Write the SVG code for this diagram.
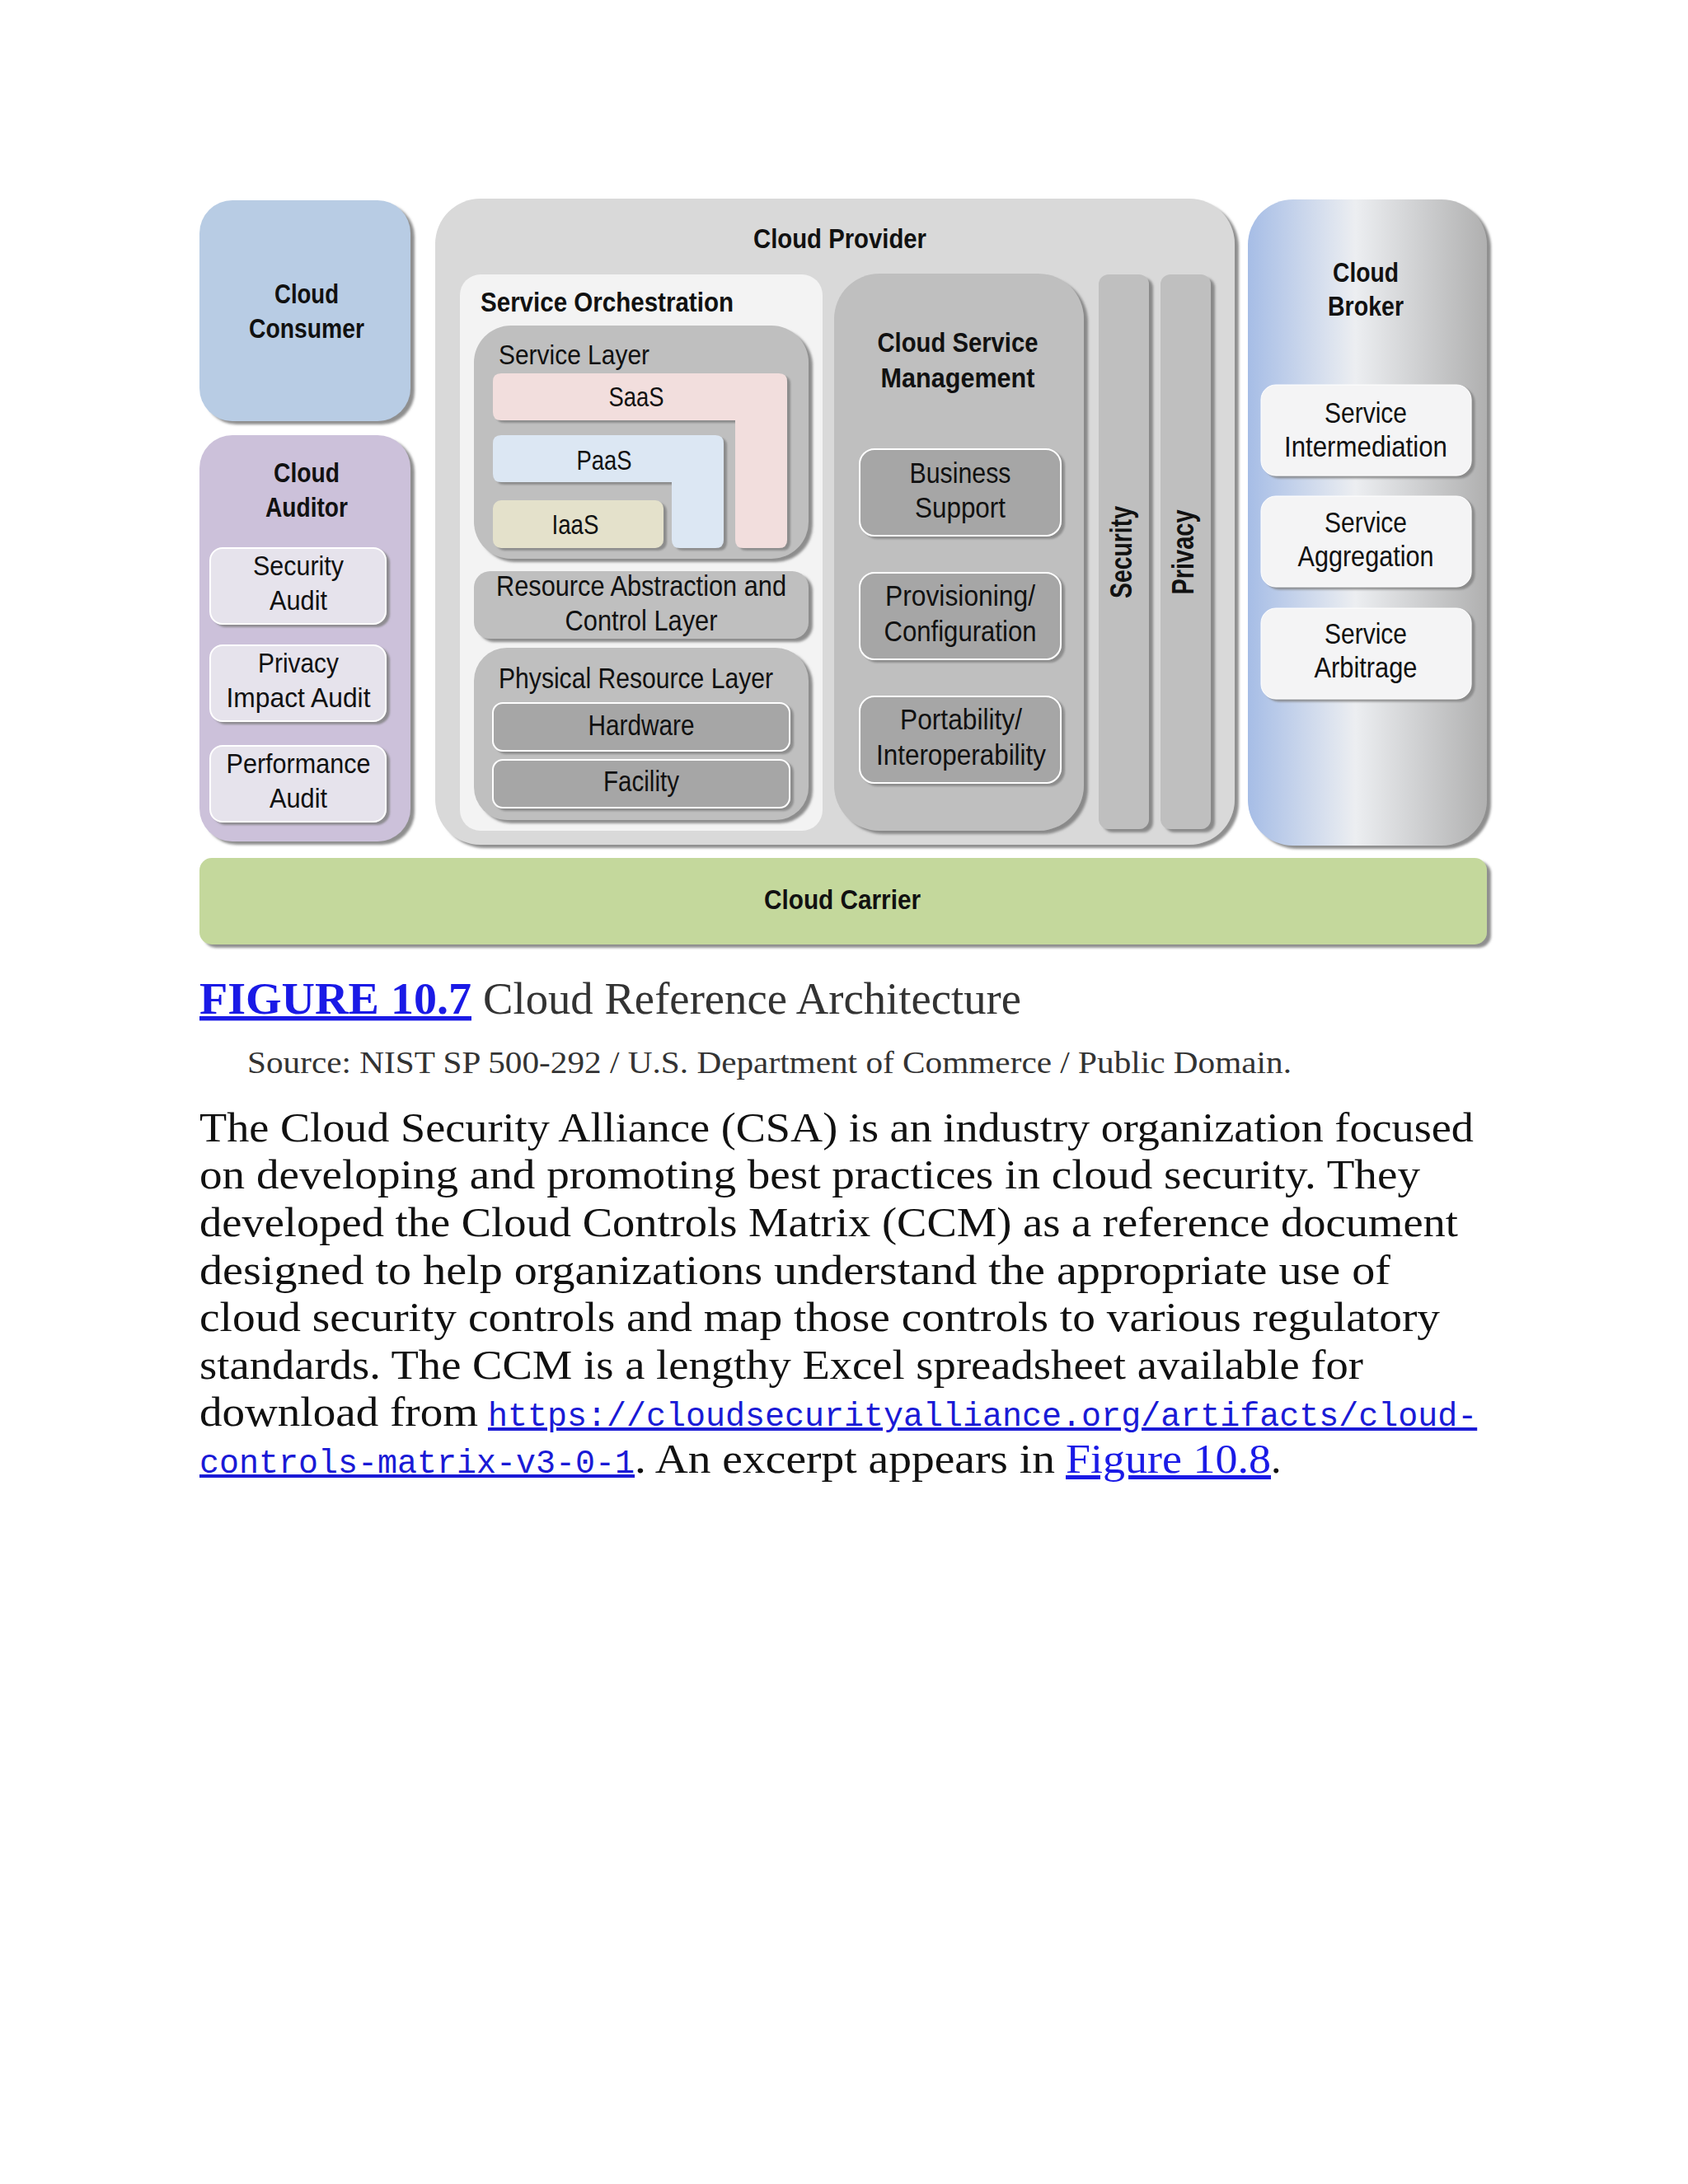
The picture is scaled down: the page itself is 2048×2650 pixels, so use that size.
<svg xmlns="http://www.w3.org/2000/svg" width="2048" height="2650" viewBox="0 0 2048 2650">
<defs>
<filter id="sh" x="-10%" y="-10%" width="130%" height="130%"><feDropShadow dx="5" dy="4" stdDeviation="1.5" flood-color="#7a7a7a" flood-opacity="0.85"/></filter>
<filter id="shs" x="-10%" y="-10%" width="130%" height="130%"><feDropShadow dx="4" dy="3" stdDeviation="1" flood-color="#808080" flood-opacity="0.8"/></filter>
<linearGradient id="brk" x1="0" y1="0" x2="1" y2="0">
<stop offset="0" stop-color="#a6bde6"/>
<stop offset="0.45" stop-color="#eceef1"/>
<stop offset="1" stop-color="#b0b0b0"/>
</linearGradient>
<style>
.t{font-family:"Liberation Sans",Arial,sans-serif;font-size:34px;fill:#111;text-anchor:middle}
.l{text-anchor:start}
.b{font-weight:bold;font-size:33px}
.big{font-size:35px}
.rot{font-size:36px}
.inner{fill:#a6a6a6;stroke:#fff;stroke-width:2;filter:url(#shs)}
.aud{fill:#e6e3ec;stroke:#fff;stroke-width:2;filter:url(#shs)}
.brs{fill:#f4f4f5;stroke:#fff;stroke-width:1;filter:url(#shs)}
.layer{fill:#bfbfbf;filter:url(#sh)}
.body{font-family:"Liberation Serif","Times New Roman",serif;font-size:50px;fill:#111}
.mono{font-family:"Liberation Mono","Courier New",monospace;font-size:40px;fill:#1a1ad6;text-decoration:underline}
.lnk{fill:#1a1ae6;text-decoration:underline}
</style>
</defs>
<rect width="2048" height="2650" fill="#fff"/>

<g id="cloud-consumer">
<rect x="242" y="243" width="256" height="268" rx="40" fill="#b8cce4" filter="url(#sh)"/>
<text class="t b" x="372" y="368" textLength="78" lengthAdjust="spacingAndGlyphs">Cloud</text>
<text class="t b" x="372" y="410" textLength="140" lengthAdjust="spacingAndGlyphs">Consumer</text>
</g>

<g id="cloud-auditor">
<rect x="242" y="528" width="256" height="493" rx="40" fill="#ccc1da" filter="url(#sh)"/>
<text class="t b" x="372" y="585" textLength="80" lengthAdjust="spacingAndGlyphs">Cloud</text>
<text class="t b" x="372" y="627" textLength="100" lengthAdjust="spacingAndGlyphs">Auditor</text>
<g id="security-audit">
<rect class="aud" x="255" y="665" width="213" height="92" rx="15"/>
<text class="t" x="362" y="698" textLength="110" lengthAdjust="spacingAndGlyphs">Security</text>
<text class="t" x="362" y="740" textLength="70" lengthAdjust="spacingAndGlyphs">Audit</text>
</g>
<g id="privacy-impact-audit">
<rect class="aud" x="255" y="783" width="213" height="92" rx="15"/>
<text class="t" x="362" y="816" textLength="98" lengthAdjust="spacingAndGlyphs">Privacy</text>
<text class="t" x="362" y="858" textLength="175" lengthAdjust="spacingAndGlyphs">Impact Audit</text>
</g>
<g id="performance-audit">
<rect class="aud" x="255" y="905" width="213" height="92" rx="15"/>
<text class="t" x="362" y="938" textLength="175" lengthAdjust="spacingAndGlyphs">Performance</text>
<text class="t" x="362" y="980" textLength="70" lengthAdjust="spacingAndGlyphs">Audit</text>
</g>
</g>

<g id="cloud-provider">
<rect x="528" y="241" width="970" height="784" rx="55" fill="#d9d9d9" filter="url(#sh)"/>
<text class="t b" x="1019" y="301" textLength="210" lengthAdjust="spacingAndGlyphs">Cloud Provider</text>

<g id="service-orchestration">
<rect x="558" y="333" width="440" height="675" rx="25" fill="#f3f3f3"/>
<text class="t b l" x="583" y="378" textLength="307" lengthAdjust="spacingAndGlyphs">Service Orchestration</text>

<g id="service-layer">
<rect class="layer" x="575" y="395" width="406" height="283" rx="45"/>
<text class="t l" x="605" y="442" textLength="183" lengthAdjust="spacingAndGlyphs">Service Layer</text>
<path id="saas" d="M608,453 H945 Q955,453 955,463 V655 Q955,665 945,665 H902 Q892,665 892,655 V510 H608 Q598,510 598,500 V463 Q598,453 608,453 Z" fill="#f2dedd" filter="url(#shs)"/>
<text class="t" x="772" y="493" textLength="67" lengthAdjust="spacingAndGlyphs">SaaS</text>
<path id="paas" d="M608,528 H868 Q878,528 878,538 V655 Q878,665 868,665 H825 Q815,665 815,655 V585 H608 Q598,585 598,575 V538 Q598,528 608,528 Z" fill="#dce7f3" filter="url(#shs)"/>
<text class="t" x="733" y="570" textLength="67" lengthAdjust="spacingAndGlyphs">PaaS</text>
<rect id="iaas" x="598" y="607" width="207" height="58" rx="10" fill="#e4e1cb" filter="url(#shs)"/>
<text class="t" x="698" y="648" textLength="57" lengthAdjust="spacingAndGlyphs">IaaS</text>
</g>

<g id="resource-abstraction">
<rect class="layer" x="575" y="693" width="406" height="82" rx="20"/>
<text class="t big" x="778" y="723" textLength="352" lengthAdjust="spacingAndGlyphs">Resource Abstraction and</text>
<text class="t big" x="778" y="765" textLength="185" lengthAdjust="spacingAndGlyphs">Control Layer</text>
</g>

<g id="physical-resource-layer">
<rect class="layer" x="575" y="786" width="406" height="209" rx="40"/>
<text class="t l big" x="605" y="835" textLength="333" lengthAdjust="spacingAndGlyphs">Physical Resource Layer</text>
<g id="hardware">
<rect class="inner" x="598" y="853" width="360" height="58" rx="12"/>
<text class="t big" x="778" y="892" textLength="129" lengthAdjust="spacingAndGlyphs">Hardware</text>
</g>
<g id="facility">
<rect class="inner" x="598" y="922" width="360" height="58" rx="12"/>
<text class="t big" x="778" y="960" textLength="92" lengthAdjust="spacingAndGlyphs">Facility</text>
</g>
</g>
</g>

<g id="cloud-service-management">
<rect class="layer" x="1012" y="332" width="303" height="676" rx="55"/>
<text class="t b" x="1162" y="427" textLength="195" lengthAdjust="spacingAndGlyphs">Cloud Service</text>
<text class="t b" x="1162" y="470" textLength="187" lengthAdjust="spacingAndGlyphs">Management</text>
<g id="business-support">
<rect class="inner" x="1043" y="545" width="244" height="105" rx="18"/>
<text class="t big" x="1165" y="586" textLength="123" lengthAdjust="spacingAndGlyphs">Business</text>
<text class="t big" x="1165" y="628" textLength="110" lengthAdjust="spacingAndGlyphs">Support</text>
</g>
<g id="provisioning">
<rect class="inner" x="1043" y="695" width="244" height="105" rx="18"/>
<text class="t big" x="1165" y="735" textLength="182" lengthAdjust="spacingAndGlyphs">Provisioning/</text>
<text class="t big" x="1165" y="778" textLength="185" lengthAdjust="spacingAndGlyphs">Configuration</text>
</g>
<g id="portability">
<rect class="inner" x="1043" y="845" width="244" height="105" rx="18"/>
<text class="t big" x="1166" y="885" textLength="148" lengthAdjust="spacingAndGlyphs">Portability/</text>
<text class="t big" x="1166" y="928" textLength="206" lengthAdjust="spacingAndGlyphs">Interoperability</text>
</g>
</g>

<g id="security">
<rect class="layer" x="1333" y="333" width="61" height="673" rx="12"/>
<text class="t b rot" transform="translate(1373,670) rotate(-90)" textLength="112" lengthAdjust="spacingAndGlyphs">Security</text>
</g>
<g id="privacy">
<rect class="layer" x="1408" y="333" width="61" height="673" rx="12"/>
<text class="t b rot" transform="translate(1448,670) rotate(-90)" textLength="103" lengthAdjust="spacingAndGlyphs">Privacy</text>
</g>
</g>

<g id="cloud-broker">
<rect x="1514" y="242" width="290" height="784" rx="55" fill="url(#brk)" filter="url(#sh)"/>
<text class="t b" x="1657" y="342" textLength="80" lengthAdjust="spacingAndGlyphs">Cloud</text>
<text class="t b" x="1657" y="383" textLength="92" lengthAdjust="spacingAndGlyphs">Broker</text>
<g id="service-intermediation">
<rect class="brs" x="1530" y="467" width="255" height="110" rx="18"/>
<text class="t big" x="1657" y="513" textLength="100" lengthAdjust="spacingAndGlyphs">Service</text>
<text class="t big" x="1657" y="554" textLength="198" lengthAdjust="spacingAndGlyphs">Intermediation</text>
</g>
<g id="service-aggregation">
<rect class="brs" x="1530" y="602" width="255" height="110" rx="18"/>
<text class="t big" x="1657" y="646" textLength="100" lengthAdjust="spacingAndGlyphs">Service</text>
<text class="t big" x="1657" y="687" textLength="165" lengthAdjust="spacingAndGlyphs">Aggregation</text>
</g>
<g id="service-arbitrage">
<rect class="brs" x="1530" y="738" width="255" height="110" rx="18"/>
<text class="t big" x="1657" y="781" textLength="100" lengthAdjust="spacingAndGlyphs">Service</text>
<text class="t big" x="1657" y="822" textLength="125" lengthAdjust="spacingAndGlyphs">Arbitrage</text>
</g>
</g>

<g id="cloud-carrier">
<rect x="242" y="1041" width="1562" height="105" rx="15" fill="#c4d89c" filter="url(#sh)"/>
<text class="t b" x="1022" y="1103" textLength="190" lengthAdjust="spacingAndGlyphs">Cloud Carrier</text>
</g>

<g id="connectors"></g>

<g id="caption">
<text class="body lnk" x="242" y="1230" font-weight="bold" textLength="330" lengthAdjust="spacingAndGlyphs" style="font-size:54px">FIGURE 10.7</text>
<text class="body" x="586" y="1230" textLength="653" lengthAdjust="spacingAndGlyphs" style="font-size:54px;fill:#333">Cloud Reference Architecture</text>
<text class="body" x="300" y="1302" textLength="1267" lengthAdjust="spacingAndGlyphs" style="font-size:37px;fill:#333">Source: NIST SP 500-292 / U.S. Department of Commerce / Public Domain.</text>
</g>

<g id="body-text">
<text class="body" x="242" y="1385" textLength="1546" lengthAdjust="spacingAndGlyphs">The Cloud Security Alliance (CSA) is an industry organization focused</text>
<text class="body" x="242" y="1442" textLength="1481" lengthAdjust="spacingAndGlyphs">on developing and promoting best practices in cloud security. They</text>
<text class="body" x="242" y="1500" textLength="1527" lengthAdjust="spacingAndGlyphs">developed the Cloud Controls Matrix (CCM) as a reference document</text>
<text class="body" x="242" y="1558" textLength="1445" lengthAdjust="spacingAndGlyphs">designed to help organizations understand the appropriate use of</text>
<text class="body" x="242" y="1615" textLength="1505" lengthAdjust="spacingAndGlyphs">cloud security controls and map those controls to various regulatory</text>
<text class="body" x="242" y="1673" textLength="1412" lengthAdjust="spacingAndGlyphs">standards. The CCM is a lengthy Excel spreadsheet available for</text>
<text class="body" x="242" y="1730" textLength="338" lengthAdjust="spacingAndGlyphs">download from</text>
<text class="mono" x="592" y="1730">https://cloudsecurityalliance.org/artifacts/cloud-</text>
<text class="mono" x="242" y="1787">controls-matrix-v3-0-1</text>
<text class="body" x="770" y="1787" textLength="510" lengthAdjust="spacingAndGlyphs">. An excerpt appears in</text>
<text class="body lnk" x="1293" y="1787" textLength="249" lengthAdjust="spacingAndGlyphs">Figure 10.8</text>
<text class="body" x="1542" y="1787">.</text>
</g>
</svg>
